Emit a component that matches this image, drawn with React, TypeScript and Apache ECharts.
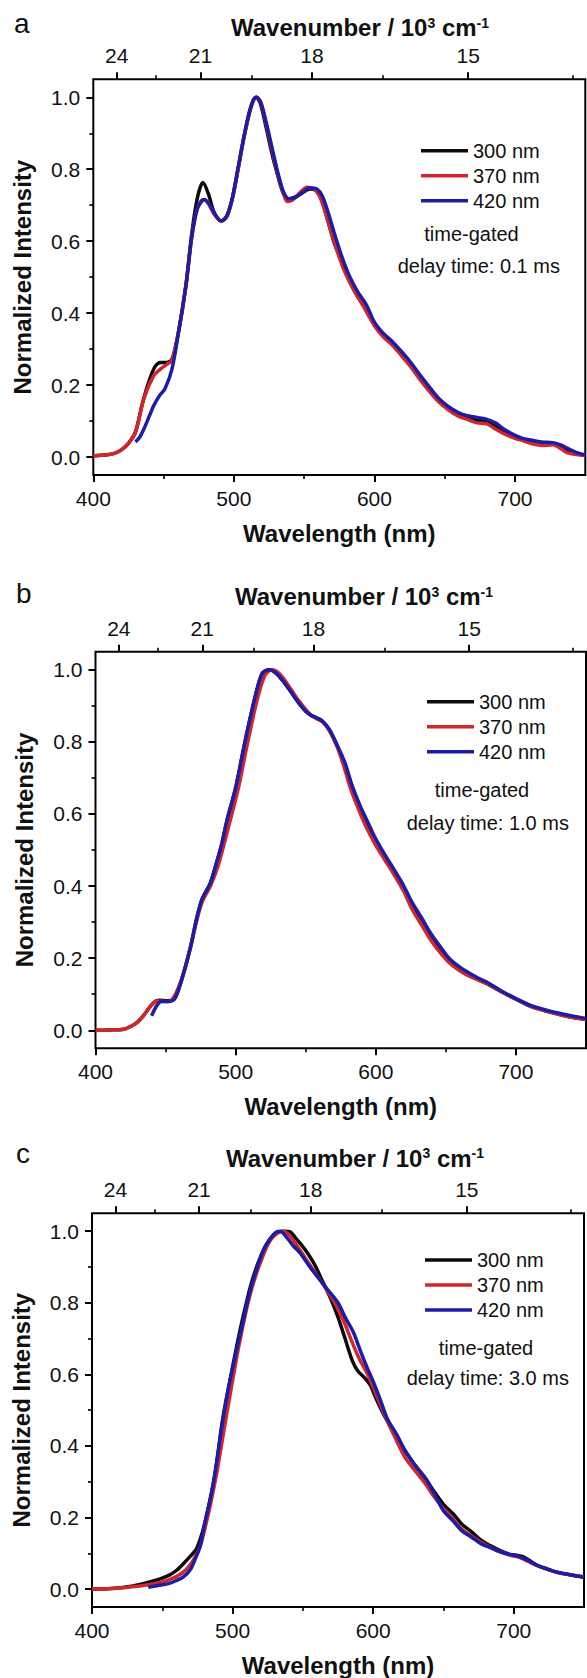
import React, { useEffect, useRef } from 'react';
import * as echarts from 'echarts';

// ---------- data ----------
const wavelengthTicks = [400, 500, 600, 700];
const wavelengthMinorTicks = [450, 550, 650];
const wavenumberTicks = [24, 21, 18, 15]; // 10^3 cm^-1
const wavenumberMinorTicks = [22.5, 19.5, 16.5, 13.5];
const intensityTicks = [0, 0.2, 0.4, 0.6, 0.8, 1.0];
const intensityMinorTicks = [0.1, 0.3, 0.5, 0.7, 0.9];
const seriesNames = ['300 nm', '370 nm', '420 nm'];
const panelLetters = ['a', 'b', 'c'];
const gateLabel = 'time-gated';
const delayLabels = ['delay time: 0.1 ms', 'delay time: 1.0 ms', 'delay time: 3.0 ms'];

// panel a (delay 0.1 ms)
const aBlack = [[400,0.003],[410,0.006],[415,0.01],[420,0.02],[425,0.038],[430,0.07],[435,0.15],[440,0.215],[444,0.252],[448,0.263],[452,0.263],[456,0.272],[461,0.356],[466,0.48],[470,0.62],[474,0.72],[478,0.763],[482,0.73],[486,0.68],[491,0.656],[495,0.67],[499,0.72],[503,0.8],[507,0.885],[511,0.955],[514,0.992],[516,1.0],[519,0.98],[523,0.915],[527,0.845],[531,0.785],[535,0.735],[539,0.718],[544,0.724],[549,0.735],[554,0.745],[558,0.742],[562,0.72],[566,0.67],[571,0.6],[576,0.55],[581,0.5],[586,0.46],[592,0.422],[600,0.37],[606,0.34],[613,0.313],[620,0.283],[626,0.256],[633,0.218],[640,0.184],[646,0.157],[653,0.135],[660,0.118],[666,0.11],[673,0.102],[680,0.098],[686,0.085],[692,0.07],[700,0.055],[706,0.047],[713,0.04],[720,0.036],[727,0.036],[733,0.027],[740,0.014],[745,0.008],[750,0.004]];
const aRed = [[400,0.003],[410,0.006],[415,0.01],[420,0.02],[425,0.038],[430,0.068],[436,0.162],[443,0.226],[448,0.245],[451,0.254],[456,0.27],[461,0.356],[466,0.48],[470,0.61],[474,0.69],[478,0.715],[481,0.71],[486,0.675],[491,0.656],[495,0.668],[499,0.72],[503,0.8],[507,0.885],[511,0.958],[514,0.993],[516,1.0],[519,0.985],[523,0.925],[527,0.855],[531,0.79],[535,0.735],[538,0.71],[542,0.715],[547,0.735],[552,0.75],[557,0.745],[561,0.725],[565,0.68],[570,0.615],[575,0.555],[580,0.505],[586,0.46],[592,0.42],[600,0.365],[606,0.335],[613,0.31],[620,0.278],[626,0.25],[633,0.212],[640,0.178],[646,0.152],[653,0.13],[660,0.113],[666,0.105],[673,0.095],[680,0.092],[686,0.078],[692,0.065],[700,0.052],[706,0.045],[713,0.036],[719,0.032],[727,0.034],[733,0.022],[737,0.012],[745,0.006],[750,0.004]];
const aBlue = [[430,0.042],[433,0.055],[436,0.078],[440,0.115],[443,0.143],[447,0.17],[451,0.19],[456,0.245],[461,0.356],[466,0.48],[470,0.61],[474,0.69],[479,0.716],[483,0.7],[487,0.672],[491,0.656],[495,0.67],[499,0.722],[503,0.805],[507,0.888],[511,0.96],[514,0.994],[516,1.0],[519,0.988],[523,0.93],[527,0.862],[531,0.795],[535,0.74],[539,0.718],[544,0.722],[549,0.736],[554,0.748],[559,0.745],[563,0.725],[567,0.68],[572,0.615],[577,0.555],[582,0.505],[588,0.46],[594,0.425],[600,0.375],[606,0.345],[613,0.32],[620,0.29],[626,0.262],[633,0.225],[640,0.19],[646,0.162],[653,0.139],[660,0.123],[666,0.115],[673,0.11],[679,0.106],[686,0.095],[692,0.078],[700,0.06],[706,0.051],[713,0.046],[719,0.042],[727,0.04],[733,0.033],[737,0.025],[744,0.012],[750,0.006]];

// panel b (delay 1.0 ms)
const bBlack = [[400,0.0],[410,0.001],[420,0.003],[428,0.017],[433,0.035],[437,0.055],[441,0.075],[445,0.083],[452,0.082],[456,0.086],[459,0.11],[463,0.16],[468,0.234],[472,0.307],[476,0.363],[482,0.409],[486,0.46],[490,0.515],[494,0.585],[500,0.672],[507,0.806],[514,0.926],[519,0.99],[524,1.0],[529,0.99],[535,0.963],[541,0.93],[546,0.903],[550,0.885],[554,0.873],[558,0.866],[562,0.857],[567,0.832],[572,0.792],[578,0.738],[583,0.675],[589,0.615],[594,0.572],[599,0.528],[606,0.48],[613,0.436],[620,0.39],[626,0.342],[633,0.296],[639,0.258],[646,0.22],[653,0.188],[660,0.166],[666,0.152],[673,0.14],[680,0.128],[690,0.106],[701,0.084],[710,0.067],[720,0.055],[730,0.045],[740,0.036],[750,0.03]];
const bRed = [[400,0.0],[410,0.001],[420,0.003],[428,0.017],[432,0.03],[436,0.05],[440,0.07],[444,0.081],[452,0.08],[457,0.1],[463,0.16],[468,0.234],[472,0.3],[476,0.355],[482,0.4],[487,0.45],[492,0.52],[496,0.58],[502,0.672],[509,0.806],[516,0.926],[521,0.985],[526,1.0],[531,0.99],[537,0.96],[543,0.925],[548,0.9],[553,0.877],[557,0.866],[562,0.855],[567,0.83],[572,0.79],[577,0.735],[582,0.67],[588,0.61],[593,0.565],[599,0.52],[606,0.475],[613,0.432],[620,0.385],[626,0.335],[633,0.29],[639,0.252],[646,0.215],[653,0.185],[660,0.165],[666,0.152],[673,0.14],[680,0.128],[690,0.106],[701,0.085],[710,0.068],[720,0.055],[730,0.045],[740,0.036],[750,0.03]];
const bBlue = [[440,0.04],[444,0.07],[447,0.08],[452,0.08],[456,0.085],[459,0.11],[463,0.16],[468,0.234],[472,0.307],[476,0.363],[482,0.409],[486,0.46],[490,0.515],[494,0.585],[500,0.672],[507,0.806],[514,0.926],[519,0.99],[524,1.0],[529,0.99],[535,0.963],[541,0.93],[546,0.903],[550,0.885],[554,0.873],[558,0.866],[562,0.857],[567,0.834],[572,0.795],[578,0.742],[583,0.68],[589,0.621],[594,0.58],[599,0.538],[606,0.49],[613,0.446],[620,0.4],[626,0.354],[633,0.31],[639,0.27],[646,0.232],[653,0.197],[660,0.175],[666,0.16],[673,0.145],[680,0.132],[690,0.108],[701,0.086],[710,0.07],[720,0.058],[730,0.048],[740,0.04],[750,0.033]];

// panel c (delay 3.0 ms)
const cBlack = [[400,0.0],[414,0.002],[428,0.008],[441,0.02],[448,0.028],[455,0.039],[460,0.052],[465,0.071],[470,0.092],[474,0.11],[477,0.14],[480,0.18],[484,0.25],[487,0.311],[490,0.39],[492,0.45],[495,0.52],[498,0.58],[503,0.68],[508,0.77],[513,0.85],[518,0.91],[523,0.955],[528,0.985],[533,0.998],[537,1.0],[541,0.998],[545,0.98],[549,0.962],[554,0.935],[559,0.902],[564,0.86],[570,0.81],[575,0.76],[580,0.7],[585,0.64],[589,0.61],[594,0.59],[598,0.57],[602,0.533],[606,0.5],[610,0.47],[617,0.42],[623,0.385],[630,0.345],[637,0.31],[643,0.275],[650,0.237],[657,0.21],[663,0.182],[670,0.16],[677,0.136],[684,0.12],[690,0.108],[697,0.097],[703,0.094],[707,0.09],[712,0.078],[717,0.066],[724,0.056],[730,0.048],[740,0.04],[750,0.034]];
const cRed = [[400,0.0],[410,0.001],[420,0.003],[430,0.007],[440,0.012],[450,0.02],[460,0.035],[467,0.055],[472,0.08],[477,0.12],[481,0.18],[485,0.25],[489,0.33],[492,0.4],[495,0.47],[499,0.56],[504,0.67],[511,0.8],[516,0.87],[522,0.935],[527,0.975],[532,0.995],[536,1.0],[540,0.99],[545,0.965],[550,0.935],[556,0.9],[562,0.865],[568,0.83],[574,0.79],[580,0.74],[585,0.69],[590,0.645],[596,0.6],[602,0.545],[609,0.48],[616,0.42],[623,0.366],[630,0.33],[637,0.295],[643,0.26],[650,0.225],[657,0.195],[663,0.168],[670,0.148],[677,0.13],[684,0.115],[690,0.105],[697,0.095],[703,0.09],[710,0.078],[717,0.065],[724,0.055],[730,0.047],[740,0.04],[750,0.034]];
const cBlue = [[440,0.005],[447,0.01],[455,0.016],[460,0.024],[465,0.034],[470,0.055],[473,0.08],[477,0.12],[480,0.18],[484,0.25],[487,0.311],[490,0.39],[493,0.47],[497,0.56],[503,0.671],[507,0.74],[511,0.81],[516,0.88],[522,0.948],[527,0.98],[531,0.997],[534,1.0],[538,0.985],[543,0.96],[548,0.939],[555,0.9],[562,0.865],[568,0.835],[575,0.8],[580,0.76],[586,0.717],[591,0.665],[596,0.616],[600,0.58],[605,0.53],[610,0.477],[617,0.43],[623,0.385],[630,0.345],[637,0.311],[643,0.27],[650,0.219],[657,0.19],[663,0.163],[670,0.145],[677,0.126],[684,0.115],[690,0.105],[697,0.097],[703,0.092],[710,0.08],[717,0.066],[724,0.056],[730,0.048],[740,0.04],[750,0.033]];

const panelSeries = [
  [aBlack, aRed, aBlue],
  [bBlack, bRed, bBlue],
  [cBlack, cRed, cBlue],
];

// ---------- layout / style ----------
const FONT = '"Liberation Sans", Arial, Helvetica, sans-serif';
const TEXT = '#111111';
const COLORS = ['#0b0b0b', '#d3262c', '#1d1ca6'];
const panels = [
  { left: 93.3, top: 79.3, width: 492, height: 395.7, letterX: 14, letterBase: 33.3, titleX: 360, titleBase: 36, legendX: 421, legendY: 150.7, gateX: 471.5, gateY: 234, delayX: 478.8, delayY: 265.7 },
  { left: 95.5, top: 651.7, width: 490.5, height: 396.6, letterX: 16, letterBase: 603.3, titleX: 364, titleBase: 605, legendX: 427, legendY: 701.7, gateX: 482, gateY: 790, delayX: 487.8, delayY: 823.3 },
  { left: 92, top: 1213.3, width: 492, height: 396, letterX: 16, letterBase: 1163.3, titleX: 355, titleBase: 1166.7, legendX: 425, legendY: 1260, gateX: 486, gateY: 1348.3, delayX: 487.8, delayY: 1378.3 },
];

const toWavelength = (k: number) => 1e4 / k;

function buildOption() {
  const grid: any[] = [];
  const xAxis: any[] = [];
  const yAxis: any[] = [];
  const series: any[] = [];
  const legend: any[] = [];
  const graphic: any[] = [];

  const tickLabel = { fontFamily: FONT, fontSize: 21, color: TEXT };
  const noLine = { show: false, onZero: false };

  panels.forEach((p, i) => {
    grid.push({ left: p.left, top: p.top, width: p.width, height: p.height, show: true, borderColor: '#000', borderWidth: 2, backgroundColor: 'transparent', containLabel: false });
    const xBase = i * 4;
    // bottom main wavelength axis
    xAxis.push({
      type: 'value', gridIndex: i, position: 'bottom', min: 400, max: 750,
      axisLine: noLine, splitLine: { show: false },
      axisTick: { show: true, inside: false, length: 7, lineStyle: { color: '#000', width: 2 }, customValues: wavelengthTicks },
      axisLabel: { ...tickLabel, margin: 13, customValues: wavelengthTicks, formatter: (v: number) => String(Math.round(v)) },
      name: 'Wavelength (nm)', nameLocation: 'middle', nameGap: 46,
      nameTextStyle: { fontFamily: FONT, fontSize: 24, fontWeight: 'bold', color: TEXT },
    });
    // bottom minor ticks
    xAxis.push({
      type: 'value', gridIndex: i, position: 'bottom', min: 400, max: 750,
      axisLine: noLine, splitLine: { show: false },
      axisTick: { show: true, inside: false, length: 4, lineStyle: { color: '#000', width: 1.6 }, customValues: wavelengthMinorTicks },
      axisLabel: { show: false },
    });
    // top wavenumber axis, major
    xAxis.push({
      type: 'value', gridIndex: i, position: 'top', min: 400, max: 750,
      axisLine: noLine, splitLine: { show: false },
      axisTick: { show: true, inside: false, length: 7, lineStyle: { color: '#000', width: 2 }, customValues: wavenumberTicks.map(toWavelength) },
      axisLabel: { ...tickLabel, margin: 13, customValues: wavenumberTicks.map(toWavelength), formatter: (v: number) => String(Math.round(1e4 / v)) },
    });
    // top wavenumber axis, minor
    xAxis.push({
      type: 'value', gridIndex: i, position: 'top', min: 400, max: 750,
      axisLine: noLine, splitLine: { show: false },
      axisTick: { show: true, inside: false, length: 4, lineStyle: { color: '#000', width: 1.6 }, customValues: wavenumberMinorTicks.map(toWavelength) },
      axisLabel: { show: false },
    });
    const yBase = i * 2;
    yAxis.push({
      type: 'value', gridIndex: i, position: 'left', min: -0.05, max: 1.05,
      axisLine: noLine, splitLine: { show: false },
      axisTick: { show: true, inside: false, length: 7, lineStyle: { color: '#000', width: 2 }, customValues: intensityTicks },
      axisLabel: { ...tickLabel, margin: 13, customValues: intensityTicks, formatter: (v: number) => v.toFixed(1) },
      name: 'Normalized Intensity', nameLocation: 'middle', nameGap: 59,
      nameTextStyle: { fontFamily: FONT, fontSize: 24, fontWeight: 'bold', color: TEXT },
    });
    yAxis.push({
      type: 'value', gridIndex: i, position: 'left', min: -0.05, max: 1.05,
      axisLine: noLine, splitLine: { show: false },
      axisTick: { show: true, inside: false, length: 4, lineStyle: { color: '#000', width: 1.6 }, customValues: intensityMinorTicks },
      axisLabel: { show: false },
    });

    panelSeries[i].forEach((data, s) => {
      series.push({
        type: 'line', name: seriesNames[s], xAxisIndex: xBase, yAxisIndex: yBase,
        data, showSymbol: false, symbol: 'none', smooth: 0.3, clip: true,
        color: COLORS[s],
        lineStyle: { color: COLORS[s], width: 3.5 },
        z: 2 + s,
      });
    });

    legend.push({
      orient: 'vertical', left: p.legendX, top: p.legendY - 10,
      itemWidth: 47, itemHeight: 3.5, itemGap: 5, icon: 'rect', selectedMode: false,
      padding: 0,
      itemStyle: { borderWidth: 0 },
      textStyle: { fontFamily: FONT, fontSize: 20, color: TEXT, lineHeight: 20 },
      data: seriesNames,
    });

    graphic.push({
      type: 'text', x: p.letterX, y: p.letterBase - 9.7,
      style: { text: panelLetters[i], fontFamily: FONT, fontSize: 28, fill: TEXT, align: 'left', verticalAlign: 'middle' },
    });
    graphic.push({
      type: 'text', x: p.titleX, y: p.titleBase - 8.3,
      style: {
        text: 'Wavenumber / 10{s|3} cm{s|-1}',
        fontFamily: FONT, fontSize: 24, fontWeight: 'bold', fill: TEXT, align: 'center', verticalAlign: 'middle',
        rich: { s: { fontFamily: FONT, fontSize: 14, fontWeight: 'bold', fill: TEXT, verticalAlign: 'top' } },
      },
    });
    graphic.push({
      type: 'text', x: p.gateX, y: p.gateY,
      style: { text: gateLabel, fontFamily: FONT, fontSize: 20, fill: TEXT, align: 'center', verticalAlign: 'middle' },
    });
    graphic.push({
      type: 'text', x: p.delayX, y: p.delayY,
      style: { text: delayLabels[i], fontFamily: FONT, fontSize: 20, fill: TEXT, align: 'center', verticalAlign: 'middle' },
    });
  });

  return {
    animation: false,
    backgroundColor: '#ffffff',
    textStyle: { fontFamily: FONT },
    grid, xAxis, yAxis, series, legend, graphic,
  };
}

export default function App() {
  const ref = useRef<HTMLDivElement>(null);
  useEffect(() => {
    if (!ref.current) return;
    const chart = echarts.init(ref.current, undefined, { renderer: 'svg' });
    chart.setOption(buildOption() as any);
    return () => chart.dispose();
  }, []);
  return (
    <div
      ref={ref}
      style={{ position: 'absolute', left: 0, top: 0, width: 587, height: 1678, background: '#fff' }}
    />
  );
}
